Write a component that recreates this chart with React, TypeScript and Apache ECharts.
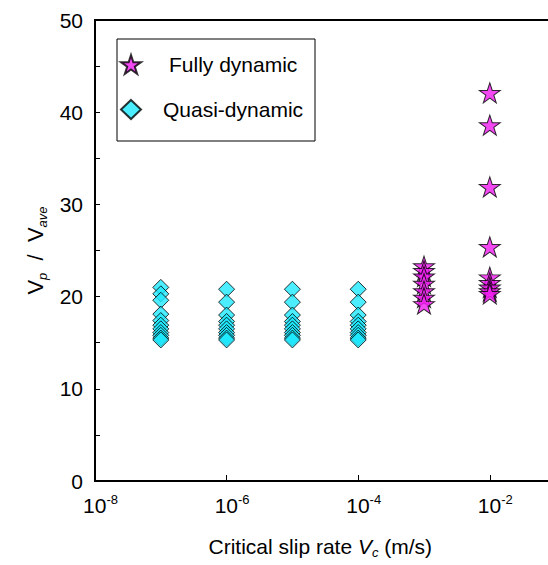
import React, { useEffect, useRef } from "react";
import * as echarts from "echarts";

// ---- data ----
const quasiRates = [1e-7, 1e-6, 1e-5, 1e-4];
const quasiValues = [
  [21.0, 20.3, 19.6, 18.1, 17.4, 16.9, 16.5, 16.1, 15.8, 15.5, 15.3],
  [20.8, 19.4, 18.0, 17.3, 16.9, 16.5, 16.1, 15.8, 15.5, 15.3],
  [20.8, 19.4, 18.0, 17.3, 16.9, 16.5, 16.1, 15.8, 15.5, 15.3],
  [20.8, 19.4, 18.0, 17.3, 16.9, 16.5, 16.1, 15.8, 15.5, 15.3],
];
const fullyRates = [1e-3, 1e-2];
const fullyValues = [
  [23.3, 22.8, 22.2, 21.4, 20.6, 19.9, 19.2],
  [42.1, 38.6, 31.9, 25.4, 22.1, 21.5, 21.0, 20.6, 20.3],
];
const xMin = 1e-8;
const xMax = 1e-1;
const yMin = 0;
const yMax = 50;
const yTickStep = 5;
const yLabelStep = 10;
const seriesNames = ["Fully dynamic", "Quasi-dynamic"];

// star symbol path
function starPath(): string {
  const pts: string[] = [];
  for (let i = 0; i < 10; i++) {
    const a = (-90 + i * 36) * (Math.PI / 180);
    const r = i % 2 === 0 ? 50 : 19.1;
    pts.push(`${(r * Math.cos(a)).toFixed(2)} ${(r * Math.sin(a)).toFixed(2)}`);
  }
  return "path://M" + pts.join(" L") + " Z";
}

function pairs(rates: number[], values: number[][]): number[][] {
  const out: number[][] = [];
  rates.forEach((r, i) => values[i].forEach((v) => out.push([r, v])));
  return out;
}

const FONT = "'Liberation Sans', Arial, sans-serif";

export default function App() {
  const ref = useRef<HTMLDivElement>(null);
  useEffect(() => {
    if (!ref.current) return;
    const chart = echarts.init(ref.current, undefined, { renderer: "svg" });
    const option: any = {
      animation: false,
      backgroundColor: "#ffffff",
      textStyle: { fontFamily: FONT },
      grid: {
        left: 95,
        top: 20,
        width: 460.6,
        bottom: 84,
        show: true,
        borderColor: "#000",
        borderWidth: 2,
        backgroundColor: "transparent",
      },
      legend: {
        orient: "vertical",
        left: 120,
        top: 54,
        itemWidth: 20,
        itemHeight: 19,
        itemGap: 24,
        padding: 0,
        data: seriesNames,
        textStyle: {
          fontSize: 21,
          color: "#000",
          fontFamily: FONT,
          rich: {
            a: { fontSize: 21, fontFamily: FONT, color: "#000", padding: [0, 0, 0, 23] },
            b: { fontSize: 21, fontFamily: FONT, color: "#000", padding: [0, 0, 0, 17] },
          },
        },
        formatter: (name: string) =>
          name === seriesNames[0] ? `{a|${name}}` : `{b|${name}}`,
      },
      graphic: [
        {
          type: "rect",
          shape: { x: 117, y: 39, width: 198, height: 102 },
          style: { fill: "none", stroke: "#000", lineWidth: 1 },
          z: 10,
        },
      ],
      xAxis: {
        type: "log",
        logBase: 100,
        min: xMin,
        max: xMax,
        splitNumber: 4,
        axisLine: { show: true, lineStyle: { color: "#000", width: 2 } },
        axisTick: { show: true, inside: true, length: 6, lineStyle: { color: "#000", width: 1 } },
        splitLine: { show: false },
        minorTick: { show: false },
        axisLabel: {
          margin: 12,
          color: "#000",
          formatter: (v: number) => {
            const e = Math.round(Math.log10(v));
            if (e % 2 !== 0 || e > -2) return "";
            return `{b|10}{s|${e}}`;
          },
          rich: {
            b: { fontSize: 21, lineHeight: 24, padding: [0, 0, 0, 11], fontFamily: FONT, color: "#000" },
            s: { fontSize: 13, lineHeight: 13, verticalAlign: "top", fontFamily: FONT, color: "#000" },
          },
        },
        name: "Critical slip rate {i|V}{sub|c} (m/s)",
        nameLocation: "middle",
        nameGap: 52,
        nameTextStyle: {
          fontSize: 21,
          color: "#000",
          fontFamily: FONT,
          padding: [0, 10, 0, 0],
          rich: {
            i: { fontSize: 21, fontStyle: "italic", fontFamily: FONT, color: "#000", lineHeight: 26 },
            sub: { fontSize: 13, fontStyle: "italic", fontFamily: FONT, color: "#000", verticalAlign: "bottom", lineHeight: 10 },
          },
        },
      },
      yAxis: {
        type: "value",
        min: yMin,
        max: yMax,
        interval: yTickStep,
        axisLine: { show: true, lineStyle: { color: "#000", width: 2 } },
        axisTick: { show: true, inside: true, length: 5, lineStyle: { color: "#000", width: 1 } },
        splitLine: { show: false },
        axisLabel: {
          margin: 12,
          color: "#000",
          fontSize: 21,
          fontFamily: FONT,
          formatter: (v: number) => (v % yLabelStep === 0 ? String(v) : ""),
        },
        name: "{i|V}{sp|p}{n|  /  }{i|V}{sa|ave}",
        nameLocation: "middle",
        nameGap: 42,
        nameTextStyle: {
          fontSize: 22,
          color: "#000",
          rich: {
            i: { fontSize: 22, fontFamily: FONT, color: "#000", lineHeight: 26 },
            n: { fontSize: 22, fontFamily: FONT, color: "#000", lineHeight: 26 },
            sp: { fontSize: 13, fontStyle: "italic", fontFamily: FONT, color: "#000", verticalAlign: "bottom", lineHeight: 10 },
            sa: { fontSize: 13, fontStyle: "italic", fontFamily: FONT, color: "#000", verticalAlign: "bottom", lineHeight: 10 },
          },
        },
      },
      series: [
        {
          name: seriesNames[0],
          type: "scatter",
          symbol: starPath(),
          symbolSize: [21, 20],
          itemStyle: { color: "#f01cf0", borderColor: "#000", borderWidth: 1 },
          data: pairs(fullyRates, fullyValues),
          z: 3,
        },
        {
          name: seriesNames[1],
          type: "scatter",
          symbol: "diamond",
          symbolSize: 16,
          itemStyle: { color: "#1ee8ff", borderColor: "#000", borderWidth: 1 },
          data: pairs(quasiRates, quasiValues),
          z: 2,
        },
      ],
    };
    chart.setOption(option);
    return () => chart.dispose();
  }, []);
  return (
    <div
      ref={ref}
      style={{ position: "fixed", left: 0, top: 0, width: 560, height: 565 }}
    />
  );
}
